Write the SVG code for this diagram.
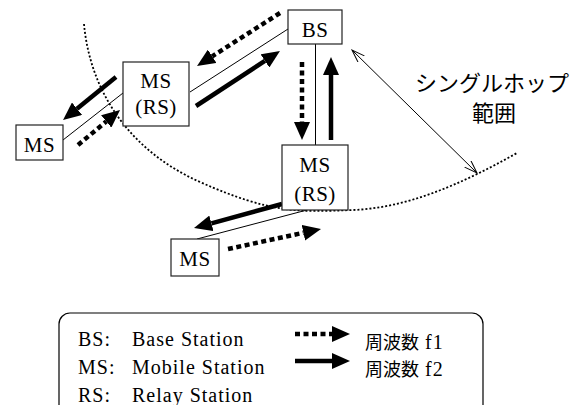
<svg xmlns="http://www.w3.org/2000/svg" width="585" height="405" viewBox="0 0 585 405">
  <style>
    .box { fill: #fff; stroke: #222; stroke-width: 1.2; }
    .lbl { font-size: 21px; fill: #000; text-anchor: middle; letter-spacing: 0.5px; }
    .link { stroke: #000; stroke-width: 1; fill: none; }
    .f1 { stroke: #000; stroke-width: 4.5; stroke-dasharray: 5 3.5; fill: none; marker-end: url(#head); }
    .f2 { stroke: #000; stroke-width: 4.5; fill: none; marker-end: url(#head); }
    .range { stroke: #000; stroke-width: 1.8; stroke-dasharray: 2 2; fill: none; }
    .jp { fill: #000; }
    .leg { font-size: 20px; letter-spacing: 1px; fill: #000; }
  </style>
  <defs>
    <marker id="head" markerUnits="userSpaceOnUse" viewBox="0 0 18 16" markerWidth="18" markerHeight="16" refX="0" refY="8" orient="auto">
      <path d="M0,0 L18,8 L0,16 Z" fill="#000"/>
    </marker>
    <marker id="open" markerUnits="userSpaceOnUse" viewBox="0 0 14 10" markerWidth="14" markerHeight="10" refX="13" refY="5" orient="auto-start-reverse">
      <path d="M0,0.5 L13,5 L0,9.5" fill="none" stroke="#000" stroke-width="1"/>
    </marker>
  </defs>

  <!-- single-hop coverage boundary -->
  <path class="range" d="M84,24 C90,90 128,150 200,182 S300,212 353,210 S460,185 517,153"/>

  <!-- span of the single-hop range -->
  <line x1="352" y1="50" x2="477" y2="173" stroke="#000" stroke-width="1" marker-start="url(#open)" marker-end="url(#open)"/>
  <g font-family="Noto Sans CJK JP, Noto Sans, sans-serif">
    <text class="jp" x="492" y="91" font-size="22" text-anchor="middle">シングルホップ</text>
    <text class="jp" x="494" y="121" font-size="22" text-anchor="middle">範囲</text>
  </g>

  <g id="connectors">
    <!-- radio links -->
    <line class="link" x1="63" y1="140" x2="123" y2="93"/>
    <line class="link" x1="190" y1="92" x2="288" y2="29"/>
    <line class="link" x1="315.5" y1="44" x2="315.5" y2="145"/>
    <line class="link" x1="307" y1="210" x2="197" y2="239"/>
    <!-- frequency f1 (dotted) -->
    <line class="f1" x1="280" y1="13" x2="212.2" y2="56.3"/>
    <line class="f1" x1="78" y1="145" x2="106.2" y2="121.5"/>
    <line class="f1" x1="302" y1="62" x2="302" y2="122"/>
    <line class="f1" x1="228" y1="249" x2="303.4" y2="232.8"/>
    <!-- frequency f2 (solid) -->
    <line class="f2" x1="196" y1="106" x2="264.9" y2="60.9"/>
    <line class="f2" x1="331" y1="140" x2="331" y2="75"/>
    <line class="f2" x1="116" y1="77" x2="77" y2="108.7"/>
    <line class="f2" x1="282" y1="204" x2="211.4" y2="223.3"/>
  </g>

  <g font-family="Liberation Serif, Times New Roman, serif">
    <g id="bs">
      <rect class="box" x="288" y="10" width="54" height="34"/>
      <text class="lbl" x="315" y="37">BS</text>
    </g>
    <g id="rs-upper">
      <rect class="box" x="123" y="62" width="66" height="64"/>
      <text class="lbl" x="156" y="88">MS</text>
      <text class="lbl" x="156" y="114">(RS)</text>
    </g>
    <g id="ms-left">
      <rect class="box" x="16" y="125" width="47" height="35"/>
      <text class="lbl" x="39.5" y="152">MS</text>
    </g>
    <g id="rs-lower">
      <rect class="box" x="282" y="145" width="66" height="65"/>
      <text class="lbl" x="315" y="172">MS</text>
      <text class="lbl" x="315" y="201">(RS)</text>
    </g>
    <g id="ms-bottom">
      <rect class="box" x="171" y="239" width="48" height="37"/>
      <text class="lbl" x="195" y="266">MS</text>
    </g>

    <g id="legend">
      <rect x="59" y="313" width="424" height="110" rx="11" fill="#fff" stroke="#000" stroke-width="1.2"/>
      <text class="leg" x="78" y="346">BS:</text>
      <text class="leg" x="132" y="346">Base Station</text>
      <text class="leg" x="78" y="374">MS:</text>
      <text class="leg" x="132" y="374">Mobile Station</text>
      <text class="leg" x="78" y="402">RS:</text>
      <text class="leg" x="132" y="402">Relay Station</text>
      <line class="f1" x1="295" y1="334" x2="332" y2="334"/>
      <line class="f2" x1="295" y1="361" x2="332" y2="361"/>
      <text x="365" y="348.5"><tspan class="jp" font-family="Noto Sans CJK JP, sans-serif" font-size="18">周波数</tspan><tspan class="leg"> f1</tspan></text>
      <text x="365" y="375.5"><tspan class="jp" font-family="Noto Sans CJK JP, sans-serif" font-size="18">周波数</tspan><tspan class="leg"> f2</tspan></text>
    </g>
  </g>
</svg>
